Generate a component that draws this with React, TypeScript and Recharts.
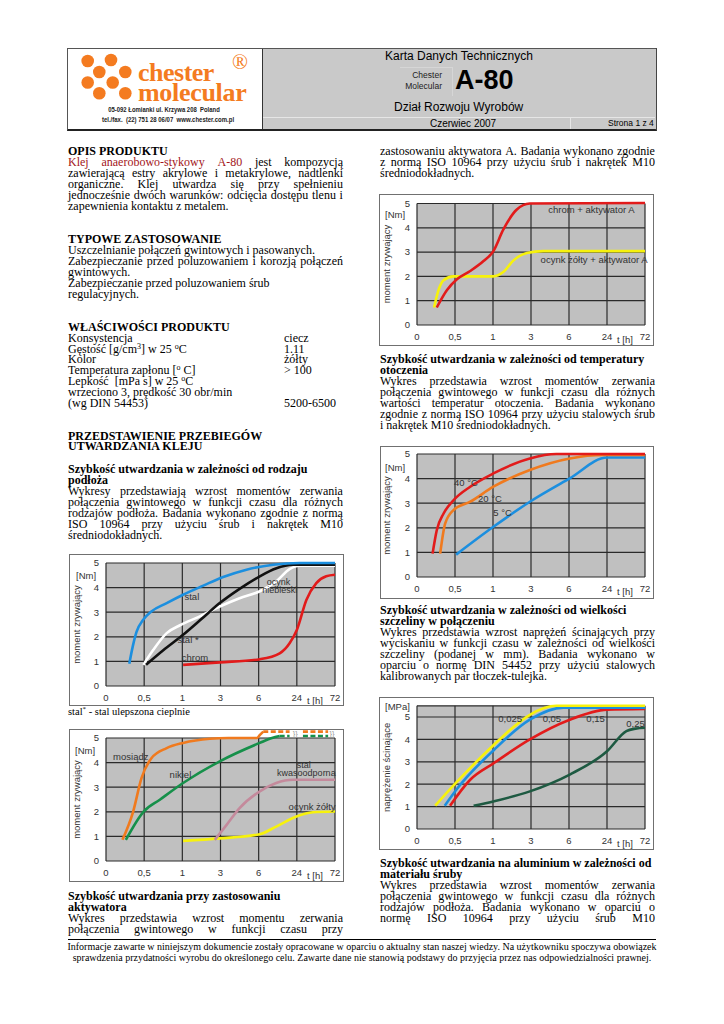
import React from 'react';
import { LineChart, Line, XAxis, YAxis, ReferenceLine, ReferenceArea, ReferenceDot } from 'recharts';

type Pt = { t: number; v: number };
const pts = (a: number[][]): Pt[] => a.map(([t, v]) => ({ t, v }));

// Shared time axis: hours shown at equal steps (t = step index on the axis)
const timeLabels = ['0', '0,5', '1', '3', '6', '24', '72'];
const timeTicks = [0, 1, 2, 3, 4, 5, 6];
const valueTicks = [0, 1, 2, 3, 4, 5];

// Chart 1 – substrate type
const subStal = pts([[0.61, 0.9], [0.7, 1.6], [0.8, 2.2], [0.98, 2.7], [1.19, 3.03], [1.59, 3.37], [2.02, 3.71], [2.55, 4.08], [3.07, 4.43], [3.68, 4.73], [4.38, 4.93], [5.07, 5.0], [6, 5.0]]);
const subStalHardened = pts([[0.98, 0.86], [1.24, 1.47], [1.59, 2.15], [1.94, 2.47], [2.46, 2.83], [2.98, 3.23], [3.5, 3.57], [4.03, 3.85], [4.46, 4.25], [4.81, 4.75], [5.07, 4.89], [6, 4.89]]);
const subOcynkNieb = pts([[1.05, 0.86], [1.5, 1.45], [2.02, 2.08], [2.5, 2.72], [2.98, 3.37], [3.5, 3.95], [4.03, 4.46], [4.45, 4.78], [4.9, 4.93], [6, 4.93]]);
const subChrom = pts([[2.02, 0.86], [2.98, 0.96], [4.03, 1.09], [4.55, 1.33], [4.81, 1.74], [5.0, 2.28], [5.25, 3.5], [5.51, 4.18], [5.77, 4.46], [6, 4.52]]);

// Chart 2 – other substrates
const matMosiadz = pts([[0.43, 0.86], [0.71, 2.0], [0.93, 3.37], [1.19, 4.18], [1.59, 4.59], [2.02, 4.8], [2.72, 4.97], [3.2, 5.0], [3.95, 5.0], [4.04, 5.14], [4.12, 5.26]]);
const matMosiadzDash1 = pts([[4.12, 5.26], [4.81, 5.26]]);
const matMosiadzDash2 = pts([[5.16, 5.26], [5.82, 5.26]]);
const matNikiel = pts([[0.52, 0.86], [0.98, 2.0], [1.41, 2.49], [2.02, 3.17], [2.98, 4.05], [4.03, 4.8], [4.35, 5.0], [4.55, 5.08]]);
const matNikielDash1 = pts([[4.55, 5.08], [4.81, 5.08]]);
const matNikielDash2 = pts([[5.16, 5.08], [5.82, 5.08]]);
const matStalKw = pts([[2.85, 0.86], [3.16, 1.47], [3.5, 2.15], [4.03, 2.83], [4.46, 3.17], [4.9, 3.3], [6, 3.3]]);
const matOcynkZolty = pts([[2.02, 0.82], [2.98, 0.92], [4.03, 1.09], [4.46, 1.4], [4.99, 1.81], [5.42, 1.98], [6, 2.01]]);

// Chart 3 – activator
const actChrom = pts([[0.52, 0.72], [0.79, 1.44], [1.05, 1.88], [1.4, 2.22], [1.75, 2.63], [2.01, 3.04], [2.27, 3.92], [2.62, 4.74], [2.97, 5.0], [6, 5.02]]);
const actOcynk = pts([[0.45, 0.72], [0.58, 1.5], [0.7, 1.84], [0.96, 2.0], [1.4, 2.0], [2.01, 2.0], [2.27, 2.18], [2.54, 2.66], [2.89, 2.96], [3.32, 3.04], [6, 3.04]]);

// Chart 4 – temperature
const temp40 = pts([[0.41, 0.95], [0.52, 1.9], [0.7, 2.58], [0.96, 3.12], [1.4, 3.67], [2.01, 4.21], [2.97, 4.82], [3.67, 5.0], [6, 5.0]]);
const temp20 = pts([[0.61, 0.95], [0.74, 2.17], [0.96, 2.72], [1.4, 3.06], [2.01, 3.67], [2.97, 4.35], [4.02, 4.82], [4.9, 4.96], [6, 4.96]]);
const temp5 = pts([[1.03, 0.91], [2.01, 2.04], [2.97, 3.06], [4.02, 4.01], [5.0, 4.86], [6, 4.86]]);

// Chart 5 – gap width
const gap0025 = pts([[0.48, 1.04], [0.98, 1.98], [2.03, 3.77], [2.5, 4.5], [2.97, 5.1], [3.67, 5.5], [6, 5.5]]);
const gap005 = pts([[0.73, 1.04], [1.07, 1.83], [2.03, 3.54], [2.97, 4.88], [3.85, 5.42], [6, 5.42]]);
const gap015 = pts([[0.87, 1.04], [1.4, 2.2], [2.03, 2.95], [2.97, 4.0], [4.02, 4.88], [5.0, 5.33], [6, 5.36]]);
const gap025 = pts([[1.49, 1.04], [2.03, 1.24], [2.97, 1.68], [4.02, 2.43], [5.0, 3.47], [5.51, 4.37], [5.75, 4.48], [6, 4.52]]);

const BLUE = '#1c8fdf';
const RED = '#e21b1b';
const BLACK = '#111111';
const WHITE = '#ffffff';
const YELLOW = '#f7f20c';
const ORANGE = '#f07a1e';
const GREEN = '#16904a';
const PINK = '#c48a9c';
const DKGREEN = '#1e5a42';

type Series = { data: Pt[]; color: string; dash?: string };
type Note = { text: string; t: number; v: number; size?: number; color?: string };
type Cfg = {
  frame: { x: number; y: number; w: number; h: number };
  plotLeft: number; plotRight: number; gridTopPx: number; zeroPx: number;
  gridTop: number; yMax: number;
  yTitle: string; unit: string; titleX: number; unitX: number; unitY: number;
  series: Series[]; notes: Note[];
};

const SANS = '"Liberation Sans", Arial, Helvetica, sans-serif';
const SERIF = '"Liberation Serif", "Times New Roman", Times, serif';
const tickStyle = { fontSize: 9.5, fill: '#333', fontFamily: SANS };

function TimeChart({ cfg }: { cfg: Cfg }) {
  const { frame } = cfg;
  const perUnit = (cfg.zeroPx - cfg.gridTopPx) / cfg.gridTop;
  const domTopPx = cfg.zeroPx - cfg.yMax * perUnit;
  const W = frame.w - 2, H = frame.h - 2;
  const ox = frame.x + 1, oy = frame.y + 1;
  const yAxisW = cfg.plotLeft - ox;
  const xAxisH = oy + H - cfg.zeroPx;
  const margin = { top: domTopPx - oy, right: ox + W - cfg.plotRight, bottom: 0, left: 0 };
  const mid = (cfg.gridTopPx + cfg.zeroPx) / 2 - oy;
  const tx = cfg.titleX - ox;
  const gridColor = '#2a2a2a';
  return (
    <div style={{ position: 'absolute', left: frame.x, top: frame.y, width: frame.w, height: frame.h, boxSizing: 'border-box', border: '1px solid #707070', background: '#fff' }}>
      <LineChart width={W} height={H} margin={margin} style={{ position: 'absolute', left: 0, top: 0 }}>
        <XAxis type="number" dataKey="t" domain={[0, 6]} ticks={timeTicks} interval={0}
          tickFormatter={(i: number) => timeLabels[i]} axisLine={false} tickLine={false} tickSize={0} tickMargin={8}
          height={xAxisH} tick={tickStyle}
          label={() => (
            <text x={cfg.plotRight - 20 - ox} y={cfg.zeroPx + 14 - oy} textAnchor="middle" dominantBaseline="central" style={tickStyle}>t [h]</text>
          )} />
        <YAxis type="number" dataKey="v" domain={[0, cfg.yMax]} ticks={valueTicks} interval={0}
          axisLine={false} tickLine={false} tickSize={0} tickMargin={7} width={yAxisW} tick={tickStyle}
          label={() => (
            <g>
              <text x={tx} y={mid} transform={`rotate(-90, ${tx}, ${mid})`} textAnchor="middle" dominantBaseline="central" style={{ fontSize: 9.5, fill: '#333', fontFamily: SANS }}>{cfg.yTitle}</text>
              <text x={cfg.unitX - ox} y={cfg.unitY - oy} dominantBaseline="central" style={tickStyle}>{cfg.unit}</text>
            </g>
          )} />
        <ReferenceArea x1={0} x2={6} y1={0} y2={cfg.gridTop} fill="#c0c0c0" fillOpacity={1} stroke="none" zIndex={-100} />
        {timeTicks.map((t) => (
          <ReferenceLine key={'v' + t} segment={[{ x: t, y: 0 }, { x: t, y: cfg.gridTop }]} stroke={gridColor} strokeWidth={1.2} zIndex={-90} />
        ))}
        {[...valueTicks.filter((v) => v <= cfg.gridTop), ...(cfg.gridTop > 5 ? [cfg.gridTop] : [])].map((v) => (
          <ReferenceLine key={'h' + v} y={v} stroke={gridColor} strokeWidth={1.2} zIndex={-90} />
        ))}
        {cfg.series.map((s, i) => (
          <Line key={i} data={s.data} dataKey="v" type="monotone" stroke={s.color} strokeWidth={2.6}
            strokeDasharray={s.dash} dot={false} activeDot={false} isAnimationActive={false} />
        ))}
        {cfg.notes.map((n, i) => (
          <ReferenceDot key={'n' + i} x={n.t} y={n.v} r={0} fill="none" stroke="none"
            label={{ value: n.text, position: 'center', fill: n.color || '#333', fontSize: n.size || 9.5, fontFamily: SANS }} />
        ))}
      </LineChart>
    </div>
  );
}

const chartSubstrate: Cfg = {
  frame: { x: 69, y: 554, w: 275, h: 152 }, plotLeft: 106, plotRight: 335, gridTopPx: 563, zeroPx: 686,
  gridTop: 5, yMax: 5, yTitle: 'moment zrywający', unit: '[Nm]', titleX: 76.5, unitX: 76, unitY: 575,
  series: [
    { data: subChrom, color: RED },
    { data: subStalHardened, color: WHITE },
    { data: subOcynkNieb, color: BLACK },
    { data: subStal, color: BLUE },
  ],
  notes: [
    { text: 'stal', t: 2.25, v: 3.62 },
    { text: 'ocynk', t: 4.52, v: 4.22, size: 9 },
    { text: 'niebieski', t: 4.55, v: 3.9, size: 9 },
    { text: 'stal *', t: 2.15, v: 1.87 },
    { text: 'chrom', t: 2.33, v: 1.14 },
  ],
};

const chartMaterials: Cfg = {
  frame: { x: 69, y: 729, w: 275, h: 153 }, plotLeft: 106, plotRight: 335, gridTopPx: 738, zeroPx: 861,
  gridTop: 5, yMax: 5.3, yTitle: 'moment zrywający', unit: '[Nm]', titleX: 76.5, unitX: 75, unitY: 750,
  series: [
    { data: matOcynkZolty, color: YELLOW },
    { data: matStalKw, color: PINK },
    { data: matNikiel, color: GREEN },
    { data: matNikielDash1, color: GREEN, dash: '5 2.5' },
    { data: matNikielDash2, color: GREEN, dash: '5 2.5' },
    { data: matMosiadz, color: ORANGE },
    { data: matMosiadzDash1, color: ORANGE, dash: '5 2.5' },
    { data: matMosiadzDash2, color: ORANGE, dash: '5 2.5' },
  ],
  notes: [
    { text: 'mosiądz', t: 0.65, v: 4.23 },
    { text: 'nikiel', t: 1.95, v: 3.5 },
    { text: 'stal', t: 5.18, v: 3.93, size: 9 },
    { text: 'kwasoodporna', t: 5.25, v: 3.6, size: 9 },
    { text: 'ocynk żółty', t: 5.4, v: 2.2 },
    { text: '}}', t: 4.96, v: 5.17, size: 7.5, color: '#999' },
    { text: '}}', t: 5.92, v: 5.17, size: 7.5, color: '#999' },
  ],
};

const chartActivator: Cfg = {
  frame: { x: 379, y: 194, w: 275, h: 152 }, plotLeft: 417, plotRight: 645, gridTopPx: 203, zeroPx: 325,
  gridTop: 5, yMax: 5, yTitle: 'moment zrywający', unit: '[Nm]', titleX: 386.5, unitX: 385, unitY: 214,
  series: [
    { data: actOcynk, color: YELLOW },
    { data: actChrom, color: RED },
  ],
  notes: [
    { text: 'chrom + aktywator A', t: 4.59, v: 4.75 },
    { text: 'ocynk żółty + aktywator A', t: 4.66, v: 2.7 },
  ],
};

const chartTemperature: Cfg = {
  frame: { x: 380, y: 446, w: 274, h: 153 }, plotLeft: 417, plotRight: 645, gridTopPx: 454, zeroPx: 577,
  gridTop: 5, yMax: 5, yTitle: 'moment zrywający', unit: '[Nm]', titleX: 386.5, unitX: 385, unitY: 467,
  series: [
    { data: temp5, color: BLUE },
    { data: temp20, color: ORANGE },
    { data: temp40, color: RED },
  ],
  notes: [
    { text: '40 °C', t: 1.29, v: 3.82 },
    { text: '20 °C', t: 1.92, v: 3.17 },
    { text: '5 °C', t: 2.25, v: 2.6 },
  ],
};

const chartGap: Cfg = {
  frame: { x: 379, y: 697, w: 275, h: 153 }, plotLeft: 417, plotRight: 645, gridTopPx: 705.8, zeroPx: 829,
  gridTop: 5.5, yMax: 5.5, yTitle: 'naprężenie ścinające', unit: '[MPa]', titleX: 386.5, unitX: 385, unitY: 706,
  series: [
    { data: gap025, color: DKGREEN },
    { data: gap015, color: RED },
    { data: gap005, color: BLUE },
    { data: gap0025, color: YELLOW },
  ],
  notes: [
    { text: '0,025', t: 2.45, v: 4.91 },
    { text: '0,05', t: 3.55, v: 4.91 },
    { text: '0,15', t: 4.7, v: 4.91 },
    { text: '0,25', t: 5.75, v: 4.69 },
  ],
};

// ---------- text helpers ----------
const lineBox: React.CSSProperties = { display: 'inline-block', height: 11, lineHeight: '11px', verticalAlign: 'top' };
function Ln({ x, y, w = 275, b = false, size = 12, children }: any) {
  return (
    <div style={{ position: 'absolute', left: x, top: y - 6.5, width: w, height: 11, lineHeight: '11px', fontSize: size, fontWeight: b ? 'bold' : 'normal', whiteSpace: 'nowrap' }}><span style={lineBox}>{children}</span></div>
  );
}
function J({ x, y, w = 275, words }: { x: number; y: number; w?: number; words: React.ReactNode[] }) {
  return (
    <div style={{ position: 'absolute', left: x, top: y - 6.5, width: w, height: 11, lineHeight: '11px', fontSize: 12, display: 'flex', justifyContent: 'space-between', whiteSpace: 'nowrap' }}>
      {words.map((wd, i) => <span key={i} style={lineBox}>{wd}</span>)}
    </div>
  );
}
const sp = (s: string) => s.split(' ');
function T({ x, y, size, children, style }: any) {
  return <div style={{ position: 'absolute', left: x, top: y - size * 0.55, fontSize: size, lineHeight: size + 'px', whiteSpace: 'nowrap', ...style }}>{children}</div>;
}
const sup: React.CSSProperties = { fontSize: 8, verticalAlign: 'top', lineHeight: '8px', position: 'relative', top: -1 };

const L = 68, R = 380;
const ORANGE_LOGO = '#f47b20';
const logoCircles = [[87.7, 61], [111, 60], [99.3, 72], [125.3, 72], [87.7, 82.5], [112.7, 82.5], [99.3, 93.3], [125.3, 93.3]];

export default function App() {
  return (
    <div style={{ position: 'absolute', left: 0, top: 0, width: 724, height: 1024, background: '#fff', overflow: 'hidden', fontFamily: SERIF, color: '#000' }}>
      {/* Header */}
      <div style={{ position: 'absolute', left: 67, top: 48, width: 590, height: 83, boxSizing: 'border-box', border: '1px solid #555', borderBottom: '2px solid #222', borderRight: '2px solid #444', background: '#fff' }} />
      <div style={{ position: 'absolute', left: 262, top: 49, width: 393, height: 80, background: '#c9c9c9', borderLeft: '1px solid #333' }} />
      <div style={{ position: 'absolute', left: 263, top: 117, width: 392, height: 1, background: '#e6e6e6' }} />
      <div style={{ position: 'absolute', left: 570, top: 117, width: 1, height: 12, background: '#e6e6e6' }} />
      <div style={{ position: 'absolute', left: 400, top: 67, width: 52, height: 28, borderTop: '1px solid #d6d6d6', borderRight: '1px solid #d6d6d6' }} />
      <svg style={{ position: 'absolute', left: 0, top: 0 }} width={260} height={130}>
        {logoCircles.map(([cx, cy], i) => <circle key={i} cx={cx} cy={cy} r={6.3} fill={ORANGE_LOGO} />)}
      </svg>
      <div style={{ position: 'absolute', left: 138, top: 60, fontSize: 26, lineHeight: '26px', fontWeight: 'bold', color: ORANGE_LOGO, letterSpacing: -0.5 }}>chester</div>
      <div style={{ position: 'absolute', left: 138, top: 80, fontSize: 26, lineHeight: '26px', fontWeight: 'bold', color: ORANGE_LOGO, letterSpacing: -0.3 }}>molecular</div>
      <div style={{ position: 'absolute', left: 232, top: 52, fontSize: 21, lineHeight: '21px', color: ORANGE_LOGO }}>®</div>
      <div style={{ position: 'absolute', left: 68, top: 104.5, width: 192, textAlign: 'center', fontFamily: SANS, fontWeight: 'bold', fontSize: 8, lineHeight: '9px', transform: 'scaleX(0.74)', transformOrigin: '96px 0', color: '#222', whiteSpace: 'nowrap' }}>05-092 Łomianki ul. Krzywa 208&nbsp; Poland</div>
      <div style={{ position: 'absolute', left: 72, top: 114.5, width: 192, textAlign: 'center', fontFamily: SANS, fontWeight: 'bold', fontSize: 8, lineHeight: '9px', transform: 'scaleX(0.75)', transformOrigin: '96px 0', color: '#222', whiteSpace: 'nowrap' }}>tel./fax.&nbsp; (22) 751 28 06/07&nbsp; www.chester.com.pl</div>

      <T x={385} y={57} size={12} style={{ fontFamily: SANS }}>Karta Danych Technicznych</T>
      <div style={{ position: 'absolute', left: 392, top: 70, width: 50, textAlign: 'right', fontFamily: SANS, fontSize: 8.5, lineHeight: '11px', color: '#222' }}>Chester<br />Molecular</div>
      <T x={455} y={82} size={27} style={{ fontFamily: SANS, fontWeight: 'bold' }}>A-80</T>
      <T x={394} y={108} size={12} style={{ fontFamily: SANS }}>Dział Rozwoju Wyrobów</T>
      <T x={430} y={124} size={10} style={{ fontFamily: SANS }}>Czerwiec 2007</T>
      <T x={608} y={124} size={8.5} style={{ fontFamily: SANS }}>Strona 1 z 4</T>

      {/* Left column */}
      <Ln x={L} y={152} b>OPIS PRODUKTU</Ln>
      <J x={L} y={163} words={[<span style={{ color: '#a3161a' }}>Klej</span>, <span style={{ color: '#a3161a' }}>anaerobowo-stykowy</span>, <span style={{ color: '#a3161a' }}>A-80</span>, 'jest', 'kompozycją']} />
      <J x={L} y={174} words={sp('zawierającą estry akrylowe i metakrylowe, nadtlenki')} />
      <J x={L} y={185} words={sp('organiczne. Klej utwardza się przy spełnieniu')} />
      <J x={L} y={196} words={sp('jednocześnie dwóch warunków: odcięcia dostępu tlenu i')} />
      <Ln x={L} y={207}>zapewnienia kontaktu z metalem.</Ln>

      <Ln x={L} y={240} b>TYPOWE ZASTOSOWANIE</Ln>
      <Ln x={L} y={251}>Uszczelnianie połączeń gwintowych i pasowanych.</Ln>
      <J x={L} y={262} words={sp('Zabezpieczanie przed poluzowaniem i korozją połączeń')} />
      <Ln x={L} y={273}>gwintowych.</Ln>
      <Ln x={L} y={284.5}>Zabezpieczanie przed poluzowaniem śrub</Ln>
      <Ln x={L} y={295.5}>regulacyjnych.</Ln>

      <Ln x={L} y={328} b>WŁAŚCIWOŚCI PRODUKTU</Ln>
      <Ln x={L} y={339}>Konsystencja</Ln><Ln x={284} y={339} w={70}>ciecz</Ln>
      <Ln x={L} y={350}>Gęstość [g/cm<span style={sup}>3</span>] w 25 <span style={sup}>o</span>C</Ln><Ln x={284} y={350} w={70}>1.11</Ln>
      <Ln x={L} y={360.5}>Kolor</Ln><Ln x={284} y={360.5} w={70}>żółty</Ln>
      <Ln x={L} y={371.5}>Temperatura zapłonu [<span style={sup}>o</span> C]</Ln><Ln x={284} y={371.5} w={70}>&gt; 100</Ln>
      <Ln x={L} y={382.5}>Lepkość&nbsp; [mPa s] w 25 <span style={sup}>o</span>C</Ln>
      <Ln x={L} y={393.5}>wrzeciono 3, prędkość 30 obr/min</Ln>
      <Ln x={L} y={404.5}>(wg DIN 54453)</Ln><Ln x={284} y={404.5} w={70}>5200-6500</Ln>

      <Ln x={L} y={437} b>PRZEDSTAWIENIE PRZEBIEGÓW</Ln>
      <Ln x={L} y={447.5} b>UTWARDZANIA KLEJU</Ln>
      <Ln x={L} y={470} b>Szybkość utwardzania w zależności od rodzaju</Ln>
      <Ln x={L} y={481} b>podłoża</Ln>
      <J x={L} y={492} words={sp('Wykresy przedstawiają wzrost momentów zerwania')} />
      <J x={L} y={503} words={sp('połączenia gwintowego w funkcji czasu dla różnych')} />
      <J x={L} y={514} words={sp('rodzajów podłoża. Badania wykonano zgodnie z normą')} />
      <J x={L} y={525} words={sp('ISO 10964 przy użyciu śrub i nakrętek M10')} />
      <Ln x={L} y={536}>średniodokładnych.</Ln>

      <TimeChart cfg={chartSubstrate} />
      <Ln x={L} y={712} size={10.5}>stal<span style={{ ...sup, fontSize: 7 }}>*</span> - stal ulepszona cieplnie</Ln>
      <TimeChart cfg={chartMaterials} />

      <Ln x={L} y={897} b>Szybkość utwardzania przy zastosowaniu</Ln>
      <Ln x={L} y={908} b>aktywatora</Ln>
      <J x={L} y={919} words={sp('Wykres przedstawia wzrost momentu zerwania')} />
      <J x={L} y={930} words={sp('połączenia gwintowego w funkcji czasu przy')} />

      {/* Right column */}
      <J x={R} y={152} words={sp('zastosowaniu aktywatora A. Badania wykonano zgodnie')} />
      <J x={R} y={163} words={sp('z normą ISO 10964 przy użyciu śrub i nakrętek M10')} />
      <Ln x={R} y={174.5}>średniodokładnych.</Ln>
      <TimeChart cfg={chartActivator} />

      <Ln x={R} y={360} b>Szybkość utwardzania w zależności od temperatury</Ln>
      <Ln x={R} y={371} b>otoczenia</Ln>
      <J x={R} y={382} words={sp('Wykres przedstawia wzrost momentów zerwania')} />
      <J x={R} y={393} words={sp('połączenia gwintowego w funkcji czasu dla różnych')} />
      <J x={R} y={404} words={sp('wartości temperatur otoczenia. Badania wykonano')} />
      <J x={R} y={415} words={sp('zgodnie z normą ISO 10964 przy użyciu stalowych śrub')} />
      <Ln x={R} y={426.5}>i nakrętek M10 średniodokładnych.</Ln>
      <TimeChart cfg={chartTemperature} />

      <Ln x={R} y={611} b>Szybkość utwardzania w zależności od wielkości</Ln>
      <Ln x={R} y={622} b>szczeliny w połączeniu</Ln>
      <J x={R} y={633.5} words={sp('Wykres przedstawia wzrost naprężeń ścinających przy')} />
      <J x={R} y={644.5} words={sp('wyciskaniu w funkcji czasu w zależności od wielkości')} />
      <J x={R} y={655.5} words={sp('szczeliny (podanej w mm). Badania wykonano w')} />
      <J x={R} y={666.5} words={sp('oparciu o normę DIN 54452 przy użyciu stalowych')} />
      <Ln x={R} y={677.5}>kalibrowanych par tłoczek-tulejka.</Ln>
      <TimeChart cfg={chartGap} />

      <Ln x={R} y={864} b>Szybkość utwardzania na aluminium w zależności od</Ln>
      <Ln x={R} y={875} b>materiału śruby</Ln>
      <J x={R} y={886} words={sp('Wykres przedstawia wzrost momentów zerwania')} />
      <J x={R} y={897} words={sp('połączenia gwintowego w funkcji czasu dla różnych')} />
      <J x={R} y={908} words={sp('rodzajów podłoża. Badania wykonano w oparciu o')} />
      <J x={R} y={919} words={sp('normę ISO 10964 przy użyciu śrub M10')} />

      {/* Footer */}
      <div style={{ position: 'absolute', left: 68, top: 939, width: 588, height: 1, background: '#000' }} />
      <div style={{ position: 'absolute', left: 40, top: 941, width: 644, textAlign: 'center', fontSize: 10, lineHeight: '11px', whiteSpace: 'nowrap' }}>
        <span style={lineBox}>Informacje zawarte w niniejszym dokumencie zostały opracowane w oparciu o aktualny stan naszej wiedzy. Na użytkowniku spoczywa obowiązek</span><br />
        <span style={lineBox}>sprawdzenia przydatności wyrobu do określonego celu. Zawarte dane nie stanowią podstawy do przyjęcia przez nas odpowiedzialności prawnej.</span>
      </div>
    </div>
  );
}
